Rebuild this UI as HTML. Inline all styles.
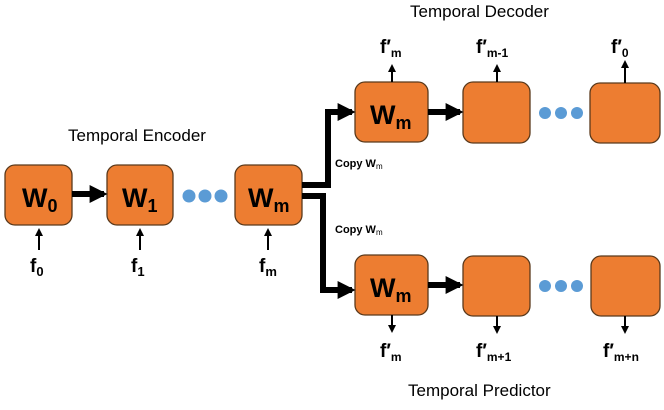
<!DOCTYPE html>
<html><head><meta charset="utf-8"><style>
body{margin:0;background:#fff}
svg text{font-family:"Liberation Sans",sans-serif}
</style></head><body>
<svg width="664" height="405" viewBox="0 0 664 405" xmlns="http://www.w3.org/2000/svg">
<defs>
<marker id="a" markerWidth="3" markerHeight="3" refX="2.4" refY="1.5" orient="auto" markerUnits="strokeWidth"><path d="M0,0 L3,1.5 L0,3z" fill="#000"/></marker>
<marker id="s" markerWidth="4" markerHeight="4" refX="3" refY="2" orient="auto" markerUnits="strokeWidth"><path d="M0,0 L4,2 L0,4z" fill="#000"/></marker>
</defs>
<g fill="#ED7D31" stroke="#5a3a1c" stroke-width="1.3">
<rect x="5" y="165" width="67" height="60" rx="10"/>
<rect x="107" y="165" width="66" height="60" rx="10"/>
<rect x="235" y="165" width="67" height="60" rx="10"/>
<rect x="355" y="82" width="73" height="60" rx="10"/>
<rect x="463" y="82" width="67" height="61" rx="10"/>
<rect x="590" y="83" width="70" height="60" rx="10"/>
<rect x="355" y="255" width="73" height="60" rx="10"/>
<rect x="463" y="256" width="67" height="60" rx="10"/>
<rect x="591" y="256" width="69" height="60" rx="10"/>
</g>
<g fill="#5B9BD5">
<circle cx="189" cy="196" r="6.5"/><circle cx="205" cy="196" r="6.5"/><circle cx="221" cy="196" r="6.5"/>
<circle cx="545" cy="113" r="6"/><circle cx="561" cy="113" r="6"/><circle cx="577" cy="113" r="6"/>
<circle cx="545" cy="286" r="6"/><circle cx="561" cy="286" r="6"/><circle cx="577" cy="286" r="6"/>
</g>
<g stroke="#000" fill="none">
<line x1="72" y1="194" x2="104" y2="194" stroke-width="6" marker-end="url(#a)"/>
<line x1="428" y1="112" x2="460" y2="112" stroke-width="6" marker-end="url(#a)"/>
<line x1="428" y1="285" x2="460" y2="285" stroke-width="6" marker-end="url(#a)"/>
<polyline points="302,185 328,185 328,112 352,112" stroke-width="6" marker-end="url(#a)"/>
<polyline points="302,196 323,196 323,290 352,290" stroke-width="6" marker-end="url(#a)"/>
<g stroke-width="2">
<line x1="39" y1="250" x2="39" y2="230" marker-end="url(#s)"/>
<line x1="140" y1="250" x2="140" y2="230" marker-end="url(#s)"/>
<line x1="268" y1="250" x2="268" y2="230" marker-end="url(#s)"/>
<line x1="392" y1="82" x2="392" y2="66" marker-end="url(#s)"/>
<line x1="497" y1="82" x2="497" y2="66" marker-end="url(#s)"/>
<line x1="625" y1="83" x2="625" y2="62" marker-end="url(#s)"/>
<line x1="392" y1="315" x2="392" y2="331" marker-end="url(#s)"/>
<line x1="497" y1="316" x2="497" y2="332" marker-end="url(#s)"/>
<line x1="625" y1="316" x2="625" y2="332" marker-end="url(#s)"/>
</g>
</g>
<g font-weight="bold" fill="#000">
<text x="22" y="207" font-size="27">W<tspan font-size="18" dy="5">0</tspan></text>
<text x="122" y="207" font-size="27">W<tspan font-size="18" dy="5">1</tspan></text>
<text x="248" y="207" font-size="27">W<tspan font-size="18" dy="5">m</tspan></text>
<text x="370" y="124" font-size="27">W<tspan font-size="18" dy="5">m</tspan></text>
<text x="370" y="297" font-size="27">W<tspan font-size="18" dy="5">m</tspan></text>
<text x="30" y="272" font-size="19">f<tspan font-size="13" dy="4">0</tspan></text>
<text x="131" y="272" font-size="19">f<tspan font-size="13" dy="4">1</tspan></text>
<text x="259" y="272" font-size="19">f<tspan font-size="13" dy="4">m</tspan></text>
<text x="380" y="53" font-size="19">f′<tspan font-size="12" dy="4">m</tspan></text>
<text x="476" y="53" font-size="19">f′<tspan font-size="12" dy="4">m-1</tspan></text>
<text x="611" y="53" font-size="19">f′<tspan font-size="12" dy="4">0</tspan></text>
<text x="380" y="357" font-size="19">f′<tspan font-size="12" dy="4">m</tspan></text>
<text x="476" y="357" font-size="19">f′<tspan font-size="12" dy="4">m+1</tspan></text>
<text x="603" y="357" font-size="19">f′<tspan font-size="12" dy="4">m+n</tspan></text>
<text x="335" y="167" font-size="11">Copy W<tspan font-size="8" dy="2" font-weight="normal">m</tspan></text>
<text x="335" y="233" font-size="11">Copy W<tspan font-size="8" dy="2" font-weight="normal">m</tspan></text>
</g>
<g font-size="17" fill="#000">
<text x="68" y="141">Temporal Encoder</text>
<text x="410" y="17">Temporal Decoder</text>
<text x="408" y="396">Temporal Predictor</text>
</g>
</svg>
</body></html>
